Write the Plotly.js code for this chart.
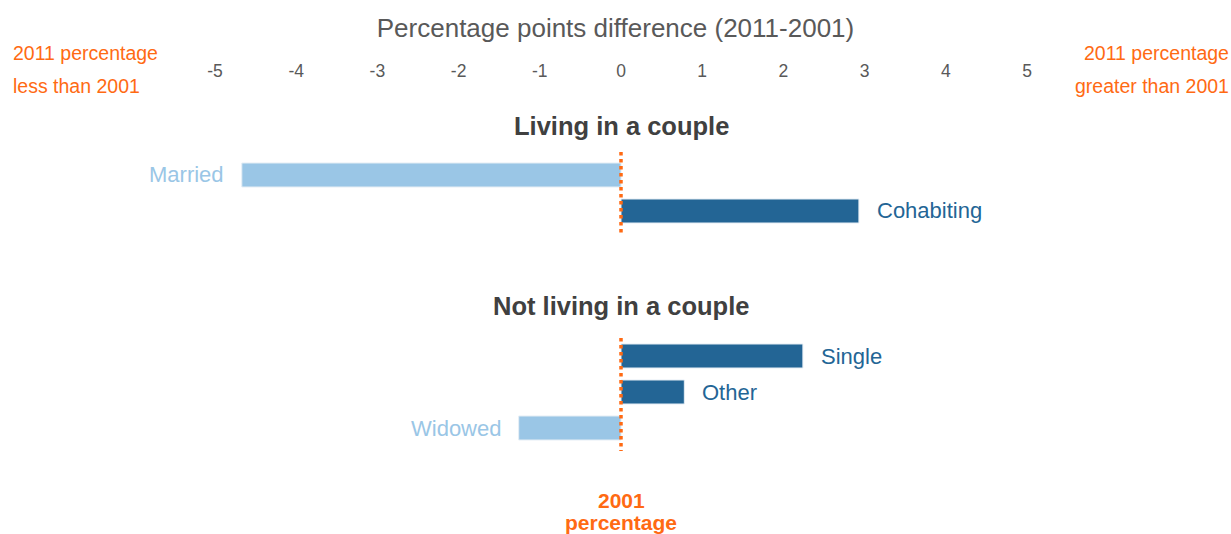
<!DOCTYPE html>
<html><head><meta charset="utf-8">
<script src="https://cdn.plot.ly/plotly-3.0.1.min.js"></script>
<style>html,body{margin:0;padding:0;background:#fff;}#chart{width:1231px;height:534px;}</style>
</head><body><div id="chart"></div>
<script>
// Data
const coupleCats = ['Married', 'Cohabiting'];
const coupleVals = [-4.67, 2.93];
const notCoupleCats = ['Single', 'Other', 'Widowed'];
const notCoupleVals = [2.24, 0.78, -1.26];
const tickVals = [-5, -4, -3, -2, -1, 0, 1, 2, 3, 4, 5];
const tickText = ['-5', '-4', '-3', '-2', '-1', '0', '1', '2', '3', '4', '5'];
const groupTitles = ['Living in a couple', 'Not living in a couple'];

const LIGHT = '#9ac6e6';
const DARK = '#236595';
const ORANGE = '#ff6a13';
const FONT = 'Liberation Sans, Arial, sans-serif';

function colorsFor(vals) { return vals.map(v => v < 0 ? LIGHT : DARK); }

const traces = [
  {type: 'bar', orientation: 'h', x: coupleVals, y: coupleCats, xaxis: 'x', yaxis: 'y',
   width: 0.667, marker: {color: colorsFor(coupleVals), line: {color: '#e6eef5', width: 1}},
   hoverinfo: 'x+y', showlegend: false},
  {type: 'bar', orientation: 'h', x: notCoupleVals, y: notCoupleCats, xaxis: 'x', yaxis: 'y2',
   width: 0.667, marker: {color: colorsFor(notCoupleVals), line: {color: '#e6eef5', width: 1}},
   hoverinfo: 'x+y', showlegend: false}
];

const H = 534, T = 85;
const PH = H - T;
const py = p => (H - p) / PH; // pixel -> paper

const annotations = [];
function addLabels(cats, vals, yref) {
  cats.forEach((c, i) => {
    const v = vals[i];
    annotations.push({
      x: v, y: c, xref: 'x', yref: yref, text: c, showarrow: false,
      xanchor: v < 0 ? 'right' : 'left', xshift: v < 0 ? -16 : 16,
      font: {family: FONT, size: 22, color: v < 0 ? LIGHT : DARK}
    });
  });
}
addLabels(coupleCats, coupleVals, 'y');
addLabels(notCoupleCats, notCoupleVals, 'y2');

annotations.push({x: 0, y: py(126), xref: 'x', yref: 'paper', text: '<b>' + groupTitles[0] + '</b>',
  showarrow: false, xanchor: 'center', yanchor: 'middle', font: {family: FONT, size: 25.5, color: '#404040'}});
annotations.push({x: 0, y: py(306), xref: 'x', yref: 'paper', text: '<b>' + groupTitles[1] + '</b>',
  showarrow: false, xanchor: 'center', yanchor: 'middle', font: {family: FONT, size: 25.5, color: '#404040'}});

annotations.push({x: 0.009, y: py(53), xref: 'paper', yref: 'paper', text: '2011 percentage', showarrow: false,
  xanchor: 'left', yanchor: 'middle', font: {family: FONT, size: 19.5, color: ORANGE}});
annotations.push({x: 0.009, y: py(86), xref: 'paper', yref: 'paper', text: 'less than 2001', showarrow: false,
  xanchor: 'left', yanchor: 'middle', font: {family: FONT, size: 19.5, color: ORANGE}});
annotations.push({x: 1, y: py(53), xref: 'paper', yref: 'paper', text: '2011 percentage', showarrow: false,
  xanchor: 'right', yanchor: 'middle', font: {family: FONT, size: 19.5, color: ORANGE}});
annotations.push({x: 1, y: py(86), xref: 'paper', yref: 'paper', text: 'greater than 2001', showarrow: false,
  xanchor: 'right', yanchor: 'middle', font: {family: FONT, size: 19.5, color: ORANGE}});

annotations.push({x: 0, y: py(500), xref: 'x', yref: 'paper', text: '<b>2001</b>', showarrow: false,
  xanchor: 'center', yanchor: 'middle', font: {family: FONT, size: 21, color: ORANGE}});
annotations.push({x: 0, y: py(522), xref: 'x', yref: 'paper', text: '<b>percentage</b>', showarrow: false,
  xanchor: 'center', yanchor: 'middle', font: {family: FONT, size: 21, color: ORANGE}});

const dotLine = {color: ORANGE, width: 3.5, dash: 'dot'};
const shapes = [
  {type: 'line', xref: 'x', yref: 'paper', x0: 0, x1: 0, y0: py(152), y1: py(236), line: dotLine, layer: 'above'},
  {type: 'line', xref: 'x', yref: 'paper', x0: 0, x1: 0, y0: py(338), y1: py(451), line: dotLine, layer: 'above'}
];

const pxPerUnit = 81.2, zeroPx = 621;
const layout = {
  width: 1231, height: 534,
  margin: {l: 0, r: 0, t: T, b: 0, pad: 0},
  paper_bgcolor: '#fff', plot_bgcolor: '#fff',
  font: {family: FONT, color: '#595959'},
  xaxis: {
    range: [-zeroPx / pxPerUnit, (1231 - zeroPx) / pxPerUnit],
    side: 'top', anchor: 'free', position: 1,
    tickvals: tickVals, ticktext: tickText, ticks: '',
    ticklabelstandoff: 5,
    showgrid: false, zeroline: false, showline: false,
    tickfont: {family: FONT, size: 17.5, color: '#595959'},
    title: {text: 'Percentage points difference (2011-2001)', font: {family: FONT, size: 26, color: '#595959'}, standoff: 14},
    fixedrange: true
  },
  yaxis: {
    type: 'category', domain: [py(250), py(140)],
    range: [-0.972 + 110 / 36, -0.972],
    showticklabels: false, showgrid: false, zeroline: false, showline: false, ticks: '', fixedrange: true
  },
  yaxis2: {
    type: 'category', domain: [py(470), py(320)],
    range: [-1 + 150 / 36, -1],
    showticklabels: false, showgrid: false, zeroline: false, showline: false, ticks: '', fixedrange: true
  },
  bargap: 0.33,
  annotations: annotations,
  shapes: shapes,
  showlegend: false
};

Plotly.newPlot('chart', traces, layout, {displayModeBar: false, staticPlot: false});
</script>
</body></html>
